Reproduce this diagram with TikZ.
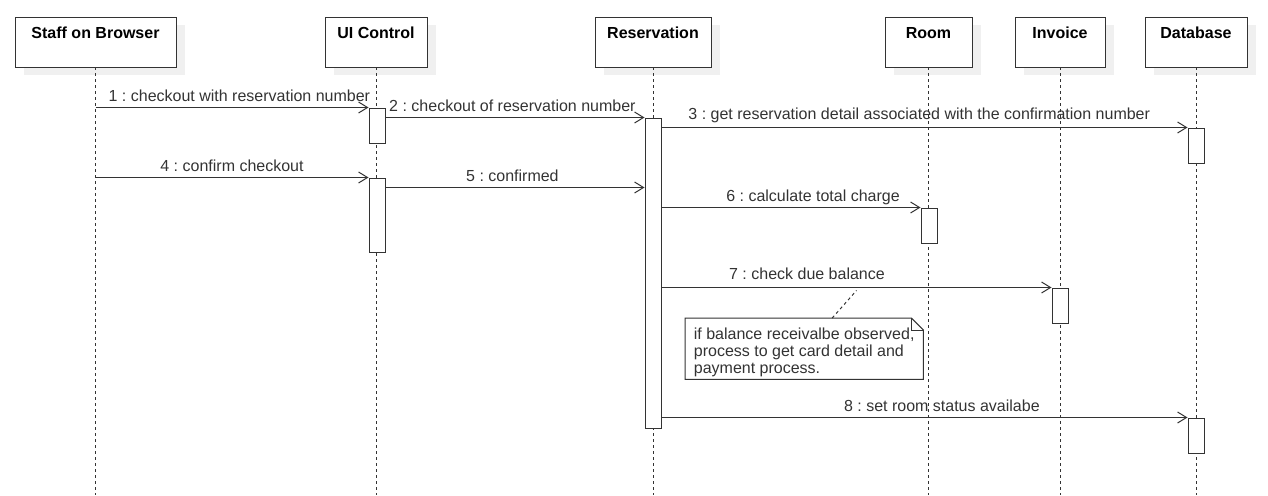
\documentclass[tikz,border=0pt]{standalone}
\usepackage{fontspec}
\setmainfont{Liberation Sans}
\usetikzlibrary{arrows.meta,positioning,shadows,backgrounds}
\definecolor{ink}{HTML}{333333}
\definecolor{shade}{HTML}{F0F0F0}
\frenchspacing
\tikzset{
	head/.style={draw=ink, fill=white, inner sep=0pt, minimum height=50pt,
		text height=21pt, text depth=29pt, font=\fontsize{16}{18}\selectfont\bfseries,
		drop shadow={shadow xshift=9pt, shadow yshift=-8pt, fill=shade, opacity=1}},
	life/.style={draw=ink, line width=1pt, dash pattern=on 3pt off 3pt},
	act/.style={draw=ink, fill=white, line width=1pt, minimum width=16pt, inner sep=0pt},
	msg/.style={draw=ink, line width=1pt, -{Straight Barb[length=9pt,width=11pt,line width=1pt]}},
	lbl/.style={anchor=base, yshift=6.5pt, inner sep=0pt, text=ink, font=\fontsize{16}{18}\selectfont},
	notebox/.style={inner xsep=6pt, inner ysep=0pt, minimum width=238pt, minimum height=61pt,
		align=left, text=ink, font=\fontsize{16}{17}\selectfont},
}
\begin{document}
\begin{tikzpicture}[x=1pt,y=-1pt]
	\useasboundingbox (0,0) rectangle (1268,495);
	% lifeline heads
	\node[head, minimum width=161pt] (staff) at (95.5,42) {Staff on Browser};
	\node[head, minimum width=102pt] (ui) at (376,42) {UI Control};
	\node[head, minimum width=116pt] (res) at (653,42) {Reservation};
	\node[head, minimum width=87pt] (room) at (928.5,42) {Room};
	\node[head, minimum width=90pt] (inv) at (1060,42) {Invoice};
	\node[head, minimum width=102pt] (db) at (1196,42) {Database};
	\foreach \n in {staff,ui,res,room,inv,db}
		\draw[life] (\n.south) -- (\n.south |- 0,495);
	% activations
	\node[act, minimum height=35pt] (ui1) at (377,125.5) {};
	\node[act, minimum height=74pt] (ui2) at (377,215) {};
	\node[act, minimum height=310pt] (res1) at (653,273) {};
	\node[act, minimum height=35pt] (db1) at (1196,145.5) {};
	\node[act, minimum height=35pt] (room1) at (929,225.5) {};
	\node[act, minimum height=35pt] (inv1) at (1060,305.5) {};
	\node[act, minimum height=35pt] (db2) at (1196,435.5) {};
	\coordinate (m5) at ([yshift=-10pt]ui2.north east);
	% messages
	\draw[msg] (staff.south |- ui1.north) -- node[lbl, pos=0.527] {1 : checkout with reservation number} (ui1.north west);
	\draw[msg] (ui1.east |- res1.north) -- node[lbl, pos=0.49] {2 : checkout of reservation number} (res1.north west);
	\draw[msg] (res1.east |- db1.north) -- node[lbl, pos=0.49, yshift=2pt] {3 : get reservation detail associated with the confirmation number} (db1.north west);
	\draw[msg] (staff.south |- ui2.north) -- node[lbl, pos=0.5] {4 : confirm checkout} (ui2.north west);
	\draw[msg] (m5) -- node[lbl, pos=0.49] {5 : confirmed} (res1.west |- m5);
	\draw[msg] (res1.east |- room1.north) -- node[lbl, pos=0.585] {6 : calculate total charge} (room1.north west);
	\draw[msg] (res1.east |- inv1.north) -- node[lbl, pos=0.373, yshift=2pt] {7 : check due balance} coordinate[pos=0.5] (m7) (inv1.north west);
	\draw[msg] (res1.east |- db2.north) -- node[lbl, pos=0.533] {8 : set room status availabe} (db2.north west);
	% note
	\node[notebox, anchor=north west] (note) at (685,318) {\rule{0pt}{19pt}if balance receivalbe observed,\\process to get card detail and\\payment process.};
	\begin{scope}[on background layer]
		\draw[draw=ink, fill=white, line width=1pt] (note.north west) -- ([xshift=-12pt]note.north east) -- ([yshift=-12pt]note.north east) -- (note.south east) -- (note.south west) -- cycle;
	\end{scope}
	\draw[draw=ink, line width=1pt] ([xshift=-12pt]note.north east) -- ([xshift=-12pt,yshift=-12pt]note.north east) -- ([yshift=-12pt]note.north east);
	\draw[life] ([xshift=28pt]note.north) -- ([yshift=-3pt]m7);
\end{tikzpicture}
\end{document}
